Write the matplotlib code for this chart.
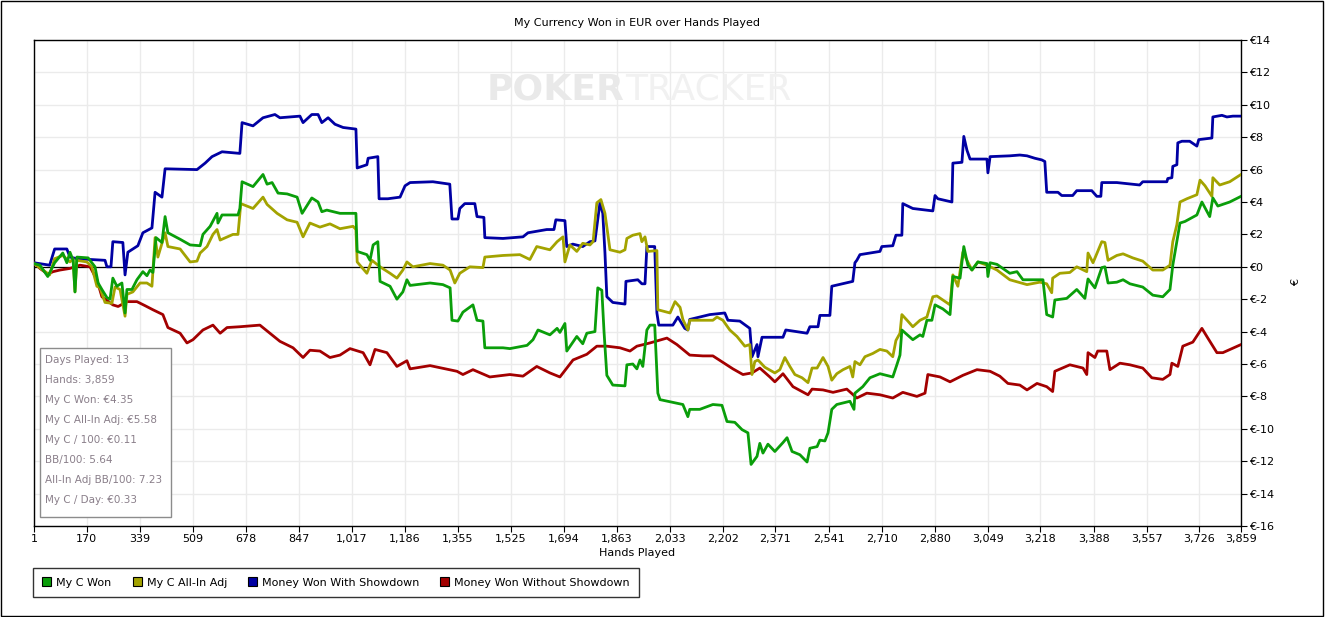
import matplotlib
matplotlib.use("Agg")
import matplotlib.pyplot as plt
from matplotlib.patches import Rectangle, Patch
from matplotlib.ticker import FuncFormatter

# hands / value keypoints
won_hands = [1, 20, 45, 67, 93, 106, 116, 126, 132, 138, 174, 196, 206, 218, 234, 244, 253, 266, 282, 292,
             298, 314, 330, 349, 362, 372, 381, 391, 410, 420, 429, 468, 500, 532, 541, 564, 586, 589, 602, 653,
             659, 666, 701, 733, 746, 762, 781, 810, 842, 858, 889, 909, 921, 937, 979, 1030, 1034, 1065, 1075, 1085,
             1100, 1107, 1139, 1161, 1180, 1193, 1203, 1267, 1308, 1331, 1337, 1356, 1372, 1404, 1417, 1436, 1442, 1500, 1522, 1577,
             1596, 1612, 1650, 1673, 1682, 1698, 1704, 1736, 1755, 1768, 1794, 1803, 1816, 1823, 1832, 1851, 1890, 1896, 1915, 1928,
             1938, 1947, 1960, 1970, 1985, 1995, 2002, 2075, 2091, 2097, 2129, 2171, 2200, 2216, 2241, 2264, 2283, 2293, 2312, 2321,
             2331, 2347, 2369, 2395, 2408, 2424, 2449, 2472, 2481, 2504, 2513, 2529, 2539, 2551, 2567, 2609, 2622, 2625, 2650, 2673,
             2705, 2746, 2759, 2769, 2775, 2810, 2833, 2842, 2855, 2871, 2881, 2906, 2929, 2938, 2961, 2973, 2986, 2999, 3018, 3047,
             3050, 3057, 3079, 3120, 3143, 3162, 3226, 3238, 3257, 3264, 3302, 3334, 3360, 3370, 3392, 3414, 3424, 3434, 3462, 3482,
             3504, 3545, 3577, 3609, 3632, 3641, 3664, 3680, 3718, 3734, 3759, 3769, 3785, 3823, 3859]
won_vals = [0.2, 0.1, -0.6, 0.25, 0.85, 0.25, 0.9, 0.4, -1.55, 0.6, 0.55, 0.0, -1.0, -1.4, -1.9, -2.0, -0.7, -1.2, -1.0, -2.85,
            -1.4, -1.4, -0.8, -0.3, -0.55, -0.2, -0.35, 1.8, 1.5, 3.1, 2.1, 1.7, 1.35, 1.3, 2.0, 2.5, 3.3, 2.7, 3.2, 3.2,
            3.6, 5.25, 4.95, 5.7, 5.1, 5.2, 4.55, 4.5, 4.3, 3.3, 4.25, 4.0, 3.4, 3.5, 3.3, 3.3, 0.95, 0.75, 0.4, 1.35,
            1.55, -0.9, -1.2, -2.0, -1.55, -0.8, -1.15, -1.0, -1.1, -1.3, -3.3, -3.35, -2.8, -2.35, -3.3, -3.35, -5.0, -5.0, -5.05, -4.85,
            -4.5, -3.9, -4.2, -3.8, -4.05, -3.5, -5.2, -4.3, -4.75, -4.1, -4.0, -1.3, -1.45, -4.0, -6.7, -7.3, -7.35, -6.05, -6.0, -6.3,
            -5.75, -6.15, -3.9, -3.6, -3.6, -7.8, -8.2, -8.5, -9.25, -8.8, -8.8, -8.5, -8.55, -9.55, -9.6, -10.05, -10.25, -12.2, -11.7, -10.9,
            -11.5, -10.95, -11.4, -10.85, -10.55, -11.4, -11.6, -12.05, -11.2, -11.1, -10.7, -10.75, -10.25, -8.8, -8.5, -8.3, -8.8, -7.8, -7.4, -6.85,
            -6.6, -6.8, -6.05, -5.45, -3.9, -4.5, -4.2, -4.3, -3.3, -3.3, -2.35, -2.6, -2.95, -0.6, -0.7, 1.25, 0.1, -0.2, 0.3, 0.2,
            -0.6, 0.25, 0.15, -0.4, -0.3, -0.8, -0.8, -2.95, -3.1, -2.05, -1.95, -1.4, -1.95, -0.75, -1.3, -0.05, 0.0, -1.0, -0.95, -0.8,
            -1.05, -1.25, -1.75, -1.85, -1.4, 0.1, 2.7, 2.8, 3.2, 4.0, 3.1, 4.25, 3.75, 4.0, 4.35]

adj_hands = [1, 51, 67, 93, 116, 126, 132, 138, 170, 186, 202, 212, 228, 250, 260, 276, 292, 298, 317, 340,
             362, 378, 388, 397, 420, 429, 468, 500, 522, 532, 554, 573, 586, 596, 637, 653, 662, 701, 733, 746,
             778, 810, 842, 861, 883, 915, 947, 979, 1021, 1030, 1034, 1065, 1081, 1107, 1139, 1161, 1180, 1193, 1212, 1267,
             1308, 1331, 1346, 1362, 1394, 1436, 1442, 1500, 1554, 1586, 1608, 1650, 1673, 1692, 1698, 1714, 1736, 1755, 1778, 1788,
             1800, 1813, 1826, 1842, 1874, 1890, 1896, 1915, 1938, 1944, 1954, 1963, 1992, 1995, 2034, 2050, 2066, 2075, 2091, 2097,
             2171, 2184, 2203, 2225, 2248, 2273, 2289, 2296, 2305, 2315, 2337, 2369, 2385, 2401, 2417, 2433, 2456, 2475, 2488, 2504,
             2523, 2539, 2551, 2567, 2587, 2609, 2618, 2625, 2641, 2657, 2682, 2705, 2727, 2746, 2756, 2769, 2775, 2794, 2810, 2833,
             2855, 2874, 2887, 2906, 2929, 2938, 2954, 2970, 2983, 2999, 3018, 3047, 3079, 3120, 3175, 3216, 3238, 3254, 3257, 3280,
             3312, 3334, 3366, 3370, 3386, 3414, 3424, 3434, 3462, 3482, 3513, 3545, 3577, 3609, 3632, 3641, 3654, 3664, 3686, 3718,
             3728, 3744, 3766, 3769, 3791, 3823, 3859]
adj_vals = [0.2, -0.5, 0.5, 0.7, 0.3, 0.5, -1.55, 0.4, 0.3, 0.0, -1.2, -1.3, -2.2, -2.25, -1.25, -1.4, -3.05, -1.7, -1.55, -1.0,
            -1.0, -1.2, 1.8, 0.6, 2.1, 1.25, 1.1, 0.3, 0.35, 0.85, 1.25, 2.0, 2.3, 1.65, 2.0, 2.0, 3.9, 3.6, 4.3, 3.85,
            3.3, 2.9, 2.75, 1.85, 2.7, 2.45, 2.65, 2.35, 2.5, 2.3, 0.3, -0.4, 0.4, 0.0, -0.4, -0.7, -0.2, 0.3, 0.0, 0.2,
            0.1, -0.2, -1.0, -0.4, 0.0, -0.05, 0.6, 0.7, 0.75, 0.45, 1.25, 1.05, 1.55, 1.85, 0.3, 1.35, 0.95, 1.45, 1.35, 1.55,
            3.95, 4.15, 3.3, 1.05, 0.9, 1.05, 1.75, 1.95, 2.05, 1.55, 1.85, 0.95, 1.0, -2.65, -2.85, -2.15, -2.5, -3.25, -3.9, -3.3,
            -3.3, -3.1, -3.3, -3.9, -4.3, -4.9, -4.8, -6.65, -5.85, -5.75, -6.2, -6.55, -6.35, -5.6, -6.15, -6.65, -6.85, -7.15, -6.25, -6.25,
            -5.6, -6.15, -7.0, -6.6, -6.35, -6.15, -6.8, -5.85, -6.05, -5.55, -5.35, -5.1, -5.2, -5.55, -4.55, -4.1, -2.95, -3.35, -3.7, -3.3,
            -3.1, -1.85, -1.8, -2.05, -2.35, -0.5, -1.2, 0.9, 0.4, -0.2, 0.3, 0.1, -0.2, -0.8, -1.1, -0.95, -1.05, -1.6, -0.7, -0.4,
            -0.35, 0.0, -0.3, 0.85, 0.25, 1.55, 1.5, 0.4, 0.7, 0.8, 0.55, 0.35, -0.2, -0.2, 0.1, 1.55, 2.6, 4.0, 4.2, 4.45,
            5.35, 5.0, 4.35, 5.5, 5.05, 5.25, 5.7]

sd_hands = [1, 51, 67, 106, 116, 138, 228, 234, 247, 253, 285, 292, 301, 333, 349, 378, 388, 410, 420, 522,
            548, 570, 602, 659, 666, 701, 733, 771, 787, 851, 861, 889, 909, 921, 941, 963, 989, 1030, 1034, 1065,
            1069, 1100, 1104, 1132, 1171, 1187, 1203, 1276, 1330, 1337, 1356, 1362, 1378, 1410, 1417, 1439, 1442, 1500, 1564, 1580,
            1640, 1663, 1669, 1698, 1704, 1723, 1755, 1778, 1794, 1810, 1819, 1826, 1832, 1851, 1890, 1893, 1931, 1944, 1954, 1960,
            1985, 1992, 1998, 2043, 2059, 2081, 2091, 2097, 2161, 2209, 2219, 2257, 2289, 2296, 2312, 2315, 2328, 2395, 2404, 2472,
            2481, 2507, 2513, 2545, 2551, 2618, 2625, 2631, 2641, 2657, 2705, 2711, 2746, 2756, 2775, 2778, 2810, 2874, 2881, 2890,
            2935, 2938, 2967, 2973, 2983, 2993, 3047, 3050, 3057, 3120, 3152, 3175, 3200, 3222, 3232, 3238, 3274, 3286, 3321, 3334,
            3382, 3398, 3411, 3414, 3462, 3535, 3545, 3622, 3625, 3638, 3641, 3654, 3657, 3670, 3695, 3718, 3724, 3766, 3769, 3798,
            3814, 3833, 3859]
sd_vals = [0.25, 0.1, 1.1, 1.1, 0.6, 0.5, 0.4, 0.0, 0.0, 1.55, 1.5, -0.5, 0.9, 1.3, 2.1, 2.4, 4.6, 4.3, 6.05, 6.0,
           6.4, 6.8, 7.1, 7.0, 8.9, 8.7, 9.2, 9.4, 9.2, 9.3, 8.9, 9.4, 9.4, 8.9, 9.2, 8.8, 8.6, 8.5, 6.1, 6.3,
           6.7, 6.8, 4.2, 4.2, 4.3, 5.0, 5.2, 5.25, 5.1, 2.95, 2.95, 3.6, 3.9, 3.9, 3.1, 3.05, 1.8, 1.75, 1.85, 2.1,
           2.3, 2.3, 2.9, 2.85, 1.25, 1.4, 1.25, 1.55, 1.6, 3.95, 3.3, 0.85, -1.85, -2.2, -2.3, -0.9, -0.8, -1.05, -1.05, 1.25,
           1.25, -2.85, -3.6, -3.6, -3.1, -3.8, -3.9, -3.25, -2.95, -2.85, -3.3, -3.35, -3.8, -5.55, -4.8, -5.55, -4.35, -4.35, -3.9, -4.1,
           -3.7, -3.7, -3.0, -3.0, -1.2, -0.9, 0.25, 0.4, 0.75, 0.8, 0.95, 1.25, 1.3, 1.95, 1.95, 3.9, 3.6, 3.45, 4.4, 4.2,
           4.0, 6.4, 6.45, 8.05, 7.2, 6.65, 6.65, 5.8, 6.8, 6.85, 6.9, 6.85, 6.7, 6.6, 6.5, 4.6, 4.6, 4.4, 4.4, 4.7,
           4.7, 4.35, 4.35, 5.2, 5.2, 5.05, 5.25, 5.25, 5.45, 5.5, 6.2, 6.3, 7.65, 7.75, 7.75, 7.45, 7.85, 7.95, 9.25, 9.35,
           9.25, 9.3, 9.3]

nosd_hands = [1, 20, 45, 62, 84, 116, 148, 180, 202, 218, 253, 270, 298, 330, 356, 381, 413, 429, 468, 490,
              509, 541, 573, 596, 618, 659, 723, 755, 787, 829, 861, 883, 915, 947, 979, 1011, 1053, 1075, 1091, 1129,
              1161, 1193, 1203, 1267, 1353, 1372, 1404, 1458, 1522, 1564, 1608, 1650, 1682, 1724, 1768, 1800, 1832, 1874, 1906, 1928,
              1970, 2024, 2056, 2097, 2139, 2171, 2203, 2235, 2267, 2296, 2321, 2353, 2369, 2395, 2427, 2475, 2488, 2523, 2555, 2599,
              2631, 2663, 2705, 2746, 2778, 2823, 2849, 2858, 2897, 2929, 2970, 3015, 3057, 3088, 3114, 3152, 3175, 3207, 3238, 3257,
              3264, 3312, 3354, 3366, 3370, 3392, 3401, 3430, 3440, 3472, 3504, 3545, 3574, 3609, 3632, 3638, 3657, 3673, 3705, 3734,
              3753, 3782, 3801, 3859]
nosd_vals = [0.25, -0.1, -0.45, -0.3, -0.2, -0.1, 0.1, 0.0, -0.8, -1.85, -2.35, -2.45, -2.15, -2.15, -2.4, -2.65, -2.95, -3.75, -4.1, -4.7,
             -4.5, -3.9, -3.6, -4.1, -3.75, -3.7, -3.6, -4.1, -4.6, -5.0, -5.6, -5.15, -5.2, -5.6, -5.45, -5.05, -5.3, -6.05, -5.1, -5.3,
             -6.15, -5.8, -6.3, -6.1, -6.45, -6.65, -6.35, -6.8, -6.65, -6.75, -6.15, -6.55, -6.8, -5.75, -5.4, -4.9, -4.9, -5.0, -5.2, -4.9,
             -4.7, -4.4, -4.8, -5.45, -5.5, -5.5, -5.9, -6.3, -6.65, -6.55, -6.25, -6.8, -7.1, -6.6, -7.4, -7.9, -7.55, -7.6, -7.75, -7.55,
             -8.1, -7.8, -7.9, -8.1, -7.75, -8.0, -7.8, -6.65, -6.8, -7.1, -6.7, -6.35, -6.45, -6.75, -7.2, -7.3, -7.6, -7.2, -7.4, -7.7,
             -6.45, -6.05, -6.25, -6.65, -5.3, -5.6, -5.2, -5.2, -6.35, -5.95, -6.05, -6.25, -6.85, -6.95, -6.65, -5.95, -6.15, -4.9, -4.65, -3.8,
             -4.4, -5.3, -5.3, -4.8]

x_ticks = [1, 170, 339, 509, 678, 847, 1017, 1186, 1355, 1525, 1694, 1863, 2033, 2202,
           2371, 2541, 2710, 2880, 3049, 3218, 3388, 3557, 3726, 3859]
stats = ["Days Played: 13", "Hands: 3,859", "My C Won: \u20ac4.35", "My C All-In Adj: \u20ac5.58",
         "My C / 100: \u20ac0.11", "BB/100: 5.64", "All-In Adj BB/100: 7.23", "My C / Day: \u20ac0.33"]

green = "#0a9e0a"
olive = "#a3a300"
blue = "#0000a3"
red = "#a30000"

plt.rcParams['font.family'] = ['DejaVu Sans']
fig = plt.figure(figsize=(13.25, 6.17), dpi=100)
ax = fig.add_axes([34 / 1325, 1 - 526 / 617, (1241 - 34) / 1325, (526 - 40) / 617])

ax.plot(nosd_hands, nosd_vals, color=red, lw=2.0, zorder=3, label="Money Won Without Showdown")
ax.plot(sd_hands, sd_vals, color=blue, lw=2.0, zorder=4, label="Money Won With Showdown")
ax.plot(adj_hands, adj_vals, color=olive, lw=2.0, zorder=5, label="My C All-In Adj")
ax.plot(won_hands, won_vals, color=green, lw=2.0, zorder=6, label="My C Won")
ax.axhline(0, color="black", lw=0.9, zorder=2)

ax.set_xlim(1, 3859)
ax.set_ylim(-16, 14)
ax.set_xticks(x_ticks)
ax.xaxis.set_major_formatter(FuncFormatter(lambda v, p: f"{int(v):,}"))
ax.set_yticks(range(-16, 15, 2))
ax.yaxis.set_major_formatter(FuncFormatter(lambda v, p: f"\u20ac{int(v)}"))
ax.yaxis.tick_right()
ax.yaxis.set_label_position("right")
ax.tick_params(labelsize=8, length=4, width=0.8, pad=2)
ax.grid(True, color="#ebebeb", lw=1.0, zorder=0)
ax.set_axisbelow(True)
for s in ax.spines.values():
    s.set_linewidth(1.0)
ax.set_xlabel("Hands Played", fontsize=8, labelpad=3)
ax.set_ylabel("\u20ac", fontsize=8, labelpad=12)
ax.set_title("My Currency Won in EUR over Hands Played", fontsize=8, pad=10)

# watermark
ax.text(0.4895, 0.899, "POKER", transform=ax.transAxes, ha="right", va="center",
        fontsize=26, fontweight="bold", color="#e9e9e9", zorder=1)
ax.text(0.4895, 0.899, "TRACKER", transform=ax.transAxes, ha="left", va="center",
        fontsize=26, color="#f1f1f1", zorder=1)

# stats box
ax.add_patch(Rectangle((40 / 1325, 1 - 517 / 617), 131 / 1325, 169 / 617, transform=fig.transFigure,
                       fill=True, facecolor="white", edgecolor="#8c8c8c", lw=1.0, zorder=7))
for i, s in enumerate(stats):
    fig.text(45 / 1325, 1 - (360 + 20 * i) / 617, s, fontsize=7.5, color="#8a7f8a", va="center", zorder=8)

# legend
h, l = ax.get_legend_handles_labels()
order = [3, 2, 1, 0]
handles = [Patch(facecolor=h[i].get_color(), edgecolor="black", lw=0.8) for i in order]
leg = fig.legend(handles, [l[i] for i in order], loc="lower left", ncol=4,
                 bbox_to_anchor=(33 / 1325, 1 - 597 / 617), borderaxespad=0, fontsize=8, frameon=True,
                 fancybox=False, edgecolor="black", handlelength=0.8, handleheight=0.8, handletextpad=0.45,
                 columnspacing=1.9, borderpad=0.85)
leg.get_frame().set_linewidth(1.0)

fig.patches.append(Rectangle((0.0005, 0.001), 0.998, 0.998, transform=fig.transFigure,
                             fill=False, edgecolor="black", lw=1.0))

fig.savefig("out.png", dpi=100)
